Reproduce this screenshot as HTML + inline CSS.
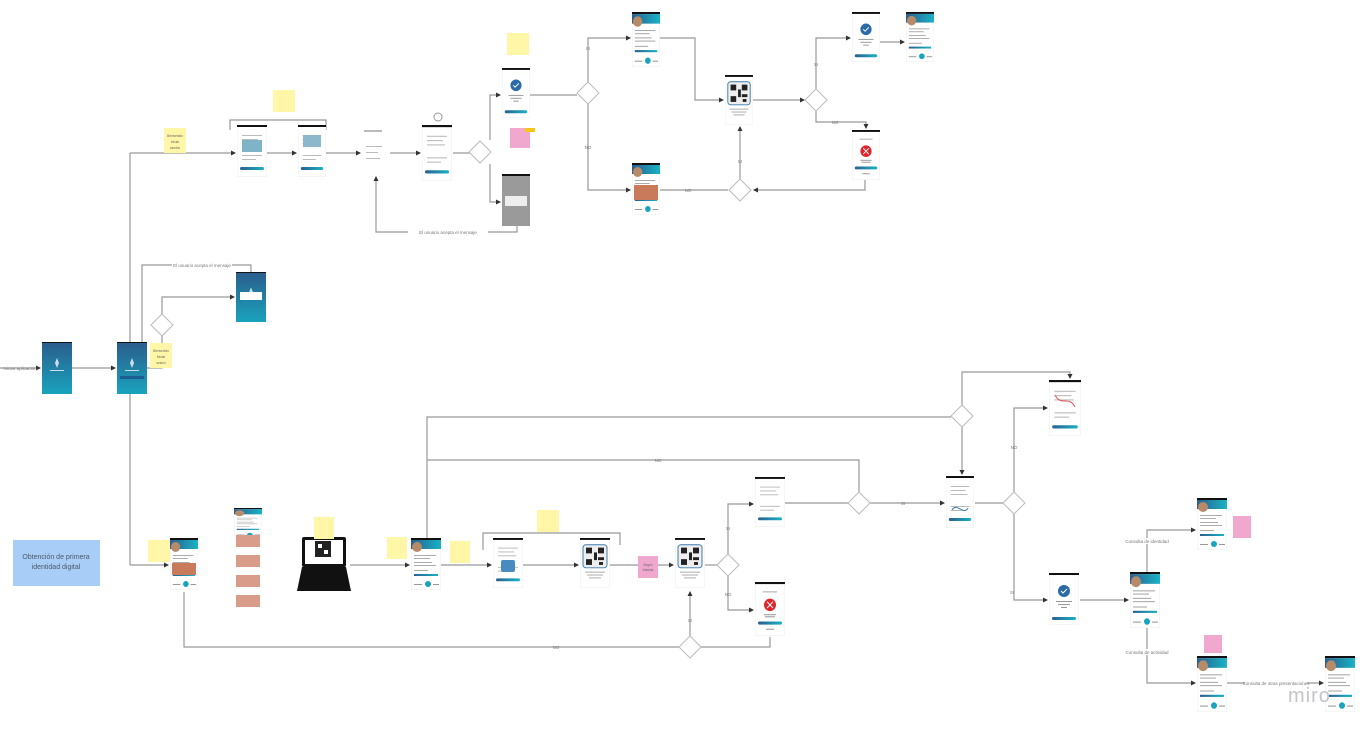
<!DOCTYPE html>
<html><head><meta charset="utf-8"><style>
html,body{margin:0;padding:0;background:#fff;width:1364px;height:732px;overflow:hidden}
svg{display:block;font-family:"Liberation Sans",sans-serif}
</style></head><body>
<svg width="1364" height="732" viewBox="0 0 1364 732" xmlns="http://www.w3.org/2000/svg">
<defs>
<linearGradient id="tg" x1="0" x2="1"><stop offset="0" stop-color="#2b5f8f"/><stop offset="1" stop-color="#19b3c6"/></linearGradient>
<linearGradient id="bg" x1="0" y1="0" x2="0" y2="1"><stop offset="0" stop-color="#2a5d8c"/><stop offset="1" stop-color="#1aa3bd"/></linearGradient>
<marker id="a" markerWidth="5" markerHeight="5" refX="4" refY="2.5" orient="auto" markerUnits="userSpaceOnUse"><path d="M0,0L5,2.5L0,5z" fill="#333"/></marker>
<symbol id="scr" viewBox="0 0 30 52" preserveAspectRatio="none"><rect width="30" height="52" fill="#fff" stroke="#eee"/><rect width="30" height="2" fill="#111"/><g fill="#bbb"><rect x="5" y="10" width="20" height="1"/><rect x="5" y="14" width="16" height="1"/><rect x="5" y="18" width="18" height="1"/><rect x="5" y="30" width="20" height="1"/><rect x="5" y="34" width="14" height="1"/></g><rect x="3" y="42" width="24" height="3" rx="1.5" fill="url(#tg)"/></symbol>
<symbol id="chk" viewBox="0 0 30 52" preserveAspectRatio="none"><rect width="30" height="52" fill="#fff" stroke="#eee"/><rect width="30" height="2" fill="#111"/><circle cx="15" cy="18" r="6" fill="#2b6aa8"/><path d="M12,18l2,2 4,-4" stroke="#fff" fill="none"/><g fill="#999"><rect x="7" y="28" width="16" height="1"/><rect x="9" y="31" width="12" height="1"/><rect x="12" y="34" width="6" height="1"/></g><rect x="3" y="44" width="24" height="3" rx="1.5" fill="url(#tg)"/></symbol>
<symbol id="err" viewBox="0 0 30 52" preserveAspectRatio="none"><rect width="30" height="52" fill="#fff" stroke="#eee"/><rect width="30" height="2" fill="#111"/><rect x="8" y="9" width="14" height="1" fill="#aaa"/><circle cx="15" cy="22" r="6" fill="#e0242a"/><path d="M12,19l6,6M18,19l-6,6" stroke="#fff"/><g fill="#999"><rect x="9" y="31" width="12" height="1"/><rect x="10" y="33" width="10" height="1"/></g><rect x="3" y="38" width="24" height="3" rx="1.5" fill="url(#tg)"/><rect x="11" y="45" width="8" height="1" fill="#999"/></symbol>
<symbol id="hdr" viewBox="0 0 30 52" preserveAspectRatio="none"><rect width="30" height="52" fill="#fff" stroke="#eee"/><rect width="30" height="2" fill="#111"/><rect y="2" width="30" height="9" fill="url(#tg)"/><circle cx="6" cy="9" r="5" fill="#b78a6a"/><g fill="#aaa"><rect x="3" y="17" width="22" height="1"/><rect x="3" y="20" width="16" height="1"/><rect x="3" y="24" width="18" height="1"/><rect x="3" y="27" width="22" height="1"/><rect x="3" y="32" width="14" height="1"/></g><rect x="3" y="36" width="24" height="2" fill="url(#tg)"/><circle cx="17" cy="46" r="3" fill="#1aa3bd"/><g fill="#999"><rect x="3" y="46" width="8" height="1"/><rect x="22" y="46" width="6" height="1"/></g></symbol>
<symbol id="qr" viewBox="0 0 30 52" preserveAspectRatio="none"><rect width="30" height="52" fill="#fff" stroke="#eee"/><rect width="30" height="2" fill="#111"/><rect x="3" y="7" width="24" height="24" rx="3" fill="#eee" stroke="#3b7bb0"/><g fill="#222"><rect x="6" y="10" width="6" height="6"/><rect x="18" y="10" width="6" height="6"/><rect x="6" y="22" width="6" height="6"/><rect x="14" y="15" width="3" height="8"/><rect x="18" y="20" width="6" height="3"/><rect x="19" y="25" width="4" height="3"/></g><g fill="#aaa"><rect x="5" y="35" width="20" height="1"/><rect x="7" y="38" width="16" height="1"/><rect x="9" y="41" width="12" height="1"/></g></symbol>
<symbol id="blue" viewBox="0 0 30 52" preserveAspectRatio="none"><rect width="30" height="52" fill="url(#bg)"/><rect width="30" height="1" fill="#111"/><path d="M15,16l2,5-2,5-2,-5z" fill="#cde"/><rect x="8" y="28" width="14" height="1" fill="#cde"/></symbol>
</defs>

<g stroke="#999" stroke-width="1.2" fill="none">
<path d="M130,153V565"/>
<path d="M130,153H235" marker-end="url(#a)"/>
<path d="M267,153H296" marker-end="url(#a)"/>
<path d="M326,153H360" marker-end="url(#a)"/>
<path d="M390,153H420" marker-end="url(#a)"/>
<path d="M453,153H470"/>
<path d="M230,130V120H326V130"/>
<path d="M490,140V95H500" marker-end="url(#a)"/>
<path d="M490,164V202H500" marker-end="url(#a)"/>
<path d="M517,226V232H376V177" marker-end="url(#a)"/>
<path d="M530,95H577"/>
<path d="M588,82V38H630" marker-end="url(#a)"/>
<path d="M588,104V190H630" marker-end="url(#a)"/>
<path d="M660,38H695V100H723" marker-end="url(#a)"/>
<path d="M660,190H728"/>
<path d="M740,180V127" marker-end="url(#a)"/>
<path d="M865,180V190H754" marker-end="url(#a)"/>
<path d="M753,100H804" marker-end="url(#a)"/>
<path d="M816,89V38H850" marker-end="url(#a)"/>
<path d="M816,111V122H866V128" marker-end="url(#a)"/>
<path d="M880,42H904" marker-end="url(#a)"/>
<path d="M0,368H40" marker-end="url(#a)"/>
<path d="M72,368H115" marker-end="url(#a)"/>
<path d="M147,368H162V336"/>
<path d="M162,314V297H234" marker-end="url(#a)"/>
<path d="M142,342V265H251V272"/>
<path d="M130,565H168" marker-end="url(#a)"/>
<path d="M350,565H409" marker-end="url(#a)"/>
<path d="M441,565H491" marker-end="url(#a)"/>
<path d="M523,565H578" marker-end="url(#a)"/>
<path d="M610,565H673" marker-end="url(#a)"/>
<path d="M705,565H717"/>
<path d="M483,550V533H620V545"/>
<path d="M728,554V504H753" marker-end="url(#a)"/>
<path d="M728,576V610H753" marker-end="url(#a)"/>
<path d="M184,592V647H679"/>
<path d="M690,636V592" marker-end="url(#a)"/>
<path d="M701,647H770V637"/>
<path d="M427,540V417H951"/>
<path d="M427,460H859V492"/>
<path d="M962,405V372H1070V378" marker-end="url(#a)"/>
<path d="M962,427V474" marker-end="url(#a)"/>
<path d="M785,503H848"/>
<path d="M870,503H944" marker-end="url(#a)"/>
<path d="M975,503H1003"/>
<path d="M1014,492V408H1047" marker-end="url(#a)"/>
<path d="M1014,514V600H1047" marker-end="url(#a)"/>
<path d="M1080,600H1128" marker-end="url(#a)"/>
<path d="M1147,572V530H1195" marker-end="url(#a)"/>
<path d="M1147,627V683H1195" marker-end="url(#a)"/>
<path d="M1227,683H1323" marker-end="url(#a)"/>
</g>

<g fill="#fff" stroke="#bbb">
<path d="M480,141l11,11-11,11-11,-11z"/>
<path d="M588,82l11,11-11,11-11,-11z"/>
<path d="M740,179l11,11-11,11-11,-11z"/>
<path d="M816,89l11,11-11,11-11,-11z"/>
<path d="M162,314l11,11-11,11-11,-11z"/>
<path d="M728,554l11,11-11,11-11,-11z"/>
<path d="M690,636l11,11-11,11-11,-11z"/>
<path d="M859,492l11,11-11,11-11,-11z"/>
<path d="M962,405l11,11-11,11-11,-11z"/>
<path d="M1014,492l11,11-11,11-11,-11z"/>
</g>
<circle cx="438" cy="117" r="4" fill="#fff" stroke="#999"/>

<use href="#scr" x="237" y="125" width="30" height="52"/>
<rect x="242" y="140" width="20" height="12" fill="#7fb3c8"/>
<use href="#scr" x="298" y="125" width="28" height="52"/>
<rect x="303" y="135" width="18" height="12" fill="#8db8cc"/>
<rect x="362" y="128" width="28" height="46" fill="#fff"/>
<g fill="#bbb"><rect x="364" y="130" width="18" height="2"/><rect x="366" y="146" width="16" height="1"/><rect x="366" y="152" width="12" height="1"/><rect x="366" y="158" width="14" height="1"/></g>
<use href="#scr" x="422" y="125" width="30" height="56"/>
<use href="#chk" x="502" y="68" width="28" height="50"/>
<rect x="502" y="174" width="28" height="52" fill="#9a9a9a"/><rect x="502" y="174" width="28" height="2" fill="#111"/><rect x="505" y="196" width="22" height="10" fill="#eee"/>
<use href="#hdr" x="632" y="12" width="28" height="55"/>
<use href="#hdr" x="632" y="163" width="28" height="52"/>
<rect x="634" y="185" width="24" height="15" fill="#c97a5a"/>
<use href="#qr" x="725" y="75" width="28" height="50"/>
<use href="#chk" x="852" y="12" width="28" height="50"/>
<use href="#err" x="852" y="130" width="28" height="50"/>
<use href="#hdr" x="906" y="12" width="28" height="50"/>
<use href="#blue" x="42" y="342" width="30" height="52"/>
<use href="#blue" x="117" y="342" width="30" height="52"/>
<rect x="120" y="376" width="24" height="3" fill="#1e5f93"/>
<use href="#blue" x="236" y="272" width="30" height="50"/>
<rect x="240" y="292" width="22" height="8" fill="#fff"/>
<use href="#hdr" x="170" y="538" width="28" height="52"/>
<rect x="172" y="563" width="24" height="12" fill="#c97a5a"/>
<rect x="234" y="508" width="28" height="112" fill="#fff"/>
<use href="#hdr" x="234" y="508" width="28" height="30"/>
<g fill="#d99b8a"><rect x="236" y="535" width="24" height="12"/><rect x="236" y="555" width="24" height="12"/><rect x="236" y="575" width="24" height="12"/><rect x="236" y="595" width="24" height="12"/></g>
<rect x="302" y="537" width="44" height="30" rx="2" fill="#111"/><rect x="305" y="540" width="38" height="24" fill="#fff"/>
<rect x="315" y="541" width="16" height="16" fill="#222"/><rect x="318" y="544" width="4" height="4" fill="#fff"/><rect x="324" y="550" width="4" height="4" fill="#fff"/>
<path d="M302,567h44l5,24h-54z" fill="#111"/>
<use href="#hdr" x="411" y="538" width="30" height="52"/>
<use href="#scr" x="493" y="538" width="30" height="50"/>
<rect x="501" y="560" width="14" height="12" rx="2" fill="#4a8bbf"/>
<use href="#qr" x="580" y="538" width="30" height="50"/>
<use href="#qr" x="675" y="538" width="30" height="50"/>
<use href="#scr" x="755" y="477" width="30" height="50"/>
<use href="#err" x="755" y="582" width="30" height="54"/>
<use href="#scr" x="946" y="476" width="28" height="52"/>
<path d="M952,510c5,-8 12,6 16,-2" stroke="#3b7bb0" fill="none"/>
<use href="#scr" x="1049" y="380" width="32" height="56"/>
<path d="M1055,395c6,12 14,0 20,12" stroke="#e05a5a" fill="none"/>
<use href="#chk" x="1049" y="573" width="30" height="52"/>
<use href="#hdr" x="1130" y="572" width="30" height="56"/>
<use href="#hdr" x="1197" y="498" width="30" height="52"/>
<use href="#hdr" x="1197" y="656" width="30" height="56"/>
<use href="#hdr" x="1325" y="656" width="30" height="56"/>

<g fill="#fff6a8">
<rect x="164" y="128" width="22" height="25"/><rect x="273" y="90" width="22" height="22"/><rect x="507" y="33" width="22" height="22"/>
<rect x="150" y="343" width="22" height="25"/><rect x="148" y="540" width="22" height="22"/><rect x="387" y="537" width="20" height="22"/>
<rect x="450" y="541" width="20" height="22"/><rect x="537" y="510" width="22" height="22"/><rect x="314" y="517" width="20" height="22"/>
</g>
<g fill="#f0a8cf"><rect x="510" y="128" width="20" height="20"/><rect x="638" y="556" width="20" height="22"/><rect x="1233" y="516" width="18" height="22"/><rect x="1204" y="635" width="18" height="18"/></g>
<rect x="525" y="128" width="10" height="4" fill="#f5c518"/>
<g font-size="3.2" fill="#666" text-anchor="middle">
<text x="175" y="137">Bienvenido</text><text x="175" y="143">Iniciar</text><text x="175" y="149">camino</text>
<text x="161" y="352">Bienvenido</text><text x="161" y="358">Iniciar</text><text x="161" y="364">sesión</text>
<text x="648" y="566">Según</text><text x="648" y="571">Alastria</text>
</g>
<rect x="13" y="540" width="87" height="46" fill="#a8cdf6"/>
<text x="56" y="559" font-size="7" fill="#4d5a6a" text-anchor="middle">Obtención de primera</text>
<text x="56" y="569" font-size="7" fill="#4d5a6a" text-anchor="middle">identidad digital</text>

<g font-size="4.5" fill="#777" text-anchor="middle">
<rect x="408" y="229" width="80" height="6" fill="#fff"/><text x="448" y="234">El usuario acepta el mensaje</text>
<rect x="172" y="262" width="60" height="6" fill="#fff"/><text x="202" y="267">El usuario acepta el mensaje</text>
<text x="20" y="370">Iniciar aplicación</text>
<text x="588" y="149">NO</text><text x="588" y="50">SI</text><text x="688" y="192">NO</text><text x="740" y="163">SI</text>
<text x="835" y="124">NO</text><text x="816" y="66">SI</text>
<text x="556" y="649">NO</text><text x="690" y="622">SI</text><text x="658" y="462">NO</text>
<text x="728" y="530">SI</text><text x="728" y="596">NO</text><text x="903" y="505">SI</text>
<text x="1014" y="449">NO</text><text x="1012" y="594">SI</text>
<rect x="1124" y="538" width="46" height="6" fill="#fff"/><text x="1147" y="543">Consulta de identidad</text>
<rect x="1124" y="649" width="46" height="6" fill="#fff"/><text x="1147" y="654">Consulta de actividad</text>
<rect x="1245" y="680" width="62" height="6" fill="#fff"/><text x="1276" y="685">Consulta de otras presentaciones</text>
</g>
<text x="1288" y="702" font-size="20" fill="#c4c4cc" letter-spacing="1">miro</text>
</svg>
</body></html>
